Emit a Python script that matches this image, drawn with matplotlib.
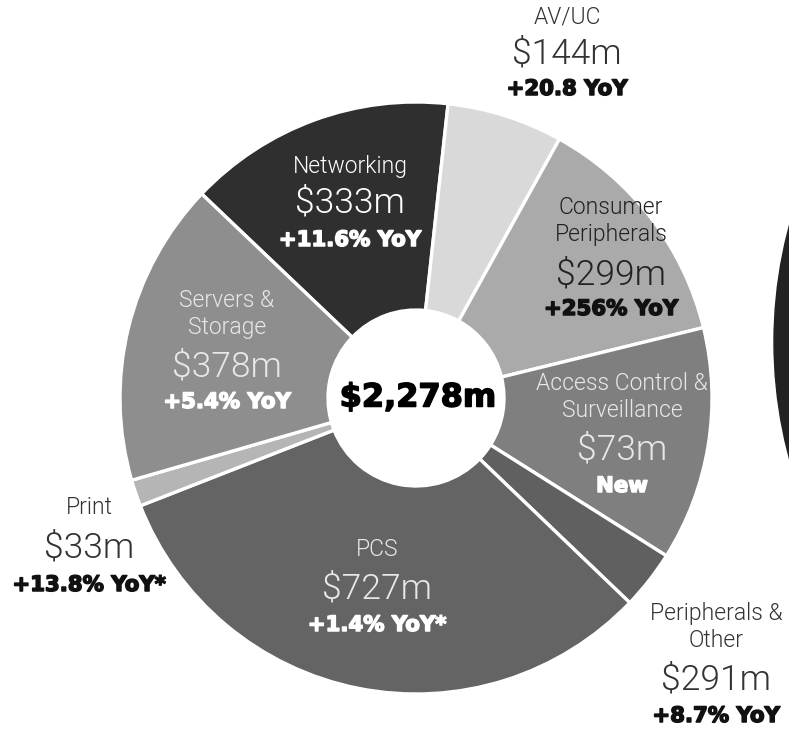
# -*- coding: utf-8 -*-
"""
Revenue donut: total split by business segment, with YoY labels.
Saves to out.png
"""

import matplotlib.pyplot as plt
import matplotlib.patheffects as pe
from matplotlib.patches import Circle


# --- data (ring order, clockwise from the Servers/Networking edge)
SEGMENTS = ["Networking", "AV/UC", "Consumer\nPeripherals", "Peripherals &\nOther",
            "Access Control &\nSurveillance", "PCS", "Print", "Servers &\nStorage"]
VALUES = [333, 144, 299, 291, 73, 727, 33, 378]
YOY = ["+11.6% YoY", "+20.8 YoY", "+256% YoY", "+8.7% YoY",
       "New", "+1.4% YoY*", "+13.8% YoY*", "+5.4% YoY"]
TOTAL = "$2,278m"

# ring fill colours (greyscale)
COLORS = ["#2f2f2f", "#d9d9d9", "#aaaaaa", "#7f7f7f",
          "#606060", "#646464", "#b5b5b5", "#8e8e8e"]

# label layout in image pixels: (x, y of name, y of value, y of yoy, name colour, yoy colour)
LABEL_POS = {
    "Networking": (350, 166, 203, 240, "#ffffff", "#ffffff"),
    "AV/UC": (567, 17, 54, 89, "#333333", "#111111"),
    "Consumer\nPeripherals": (611, 221, 275, 309, "#222222", "#111111"),
    "Peripherals &\nOther": (716, 627, 680, 716, "#333333", "#111111"),
    "Access Control &\nSurveillance": (622, 397, 450, 486, "#e8e8e8", "#ffffff"),
    "PCS": (377, 550, 589, 625, "#e8e8e8", "#ffffff"),
    "Print": (89, 507, 548, 585, "#333333", "#111111"),
    "Servers &\nStorage": (227, 314, 367, 402, "#e8e8e8", "#ffffff"),
}

W, H = 789, 732
CX, CY = 416, 398      # ring centre (image px)
R_OUT, R_IN = 296, 88


def Y(y):
    # image y (top-down) -> axes y (bottom-up)
    return H - y


def heavy_fx(color):
    # thicken DejaVu bold a little to get closer to the black-weight original
    return [pe.withStroke(linewidth=1.1, foreground=color)]


def plot_donut(save_path):
    plt.close("all")
    fig = plt.figure(figsize=(W / 100, H / 100), dpi=100)
    ax = fig.add_axes([0, 0, 1, 1])

    ax.pie(VALUES, colors=COLORS, startangle=136.4, counterclock=False,
           radius=R_OUT, center=(CX, Y(CY)), frame=True,
           wedgeprops=dict(width=R_OUT - R_IN, edgecolor="white", linewidth=2.4))

    # neighbouring ring cut off at the right edge
    ax.add_patch(Circle((1222, Y(342)), 448, color="#222222", zorder=1))

    light = dict(family=["Roboto", "DejaVu Sans"], fontweight=300,
                 ha="center", va="center")
    heavy = dict(family=["DejaVu Sans"], fontweight="bold",
                 ha="center", va="center")

    for name, val, yoy in zip(SEGMENTS, VALUES, YOY):
        x, yn, yv, yy, c_name, c_yoy = LABEL_POS[name]
        ax.text(x, Y(yn), name, fontsize=16.5, color=c_name, linespacing=1.25, **light)
        ax.text(x, Y(yv), f"${val}m", fontsize=25.5, color=c_name, **light)
        ax.text(x, Y(yy), yoy, fontsize=15.3, color=c_yoy,
                path_effects=heavy_fx(c_yoy), **heavy)

    ax.text(CX + 2, Y(CY), TOTAL, fontsize=23, color="#000000",
            path_effects=heavy_fx("#000000"), **heavy)

    ax.set_xlim(0, W)
    ax.set_ylim(0, H)
    ax.set_aspect("equal")
    ax.axis("off")

    fig.savefig(save_path, dpi=100, facecolor="white")


def main():
    plot_donut("out.png")


if __name__ == "__main__":
    main()
